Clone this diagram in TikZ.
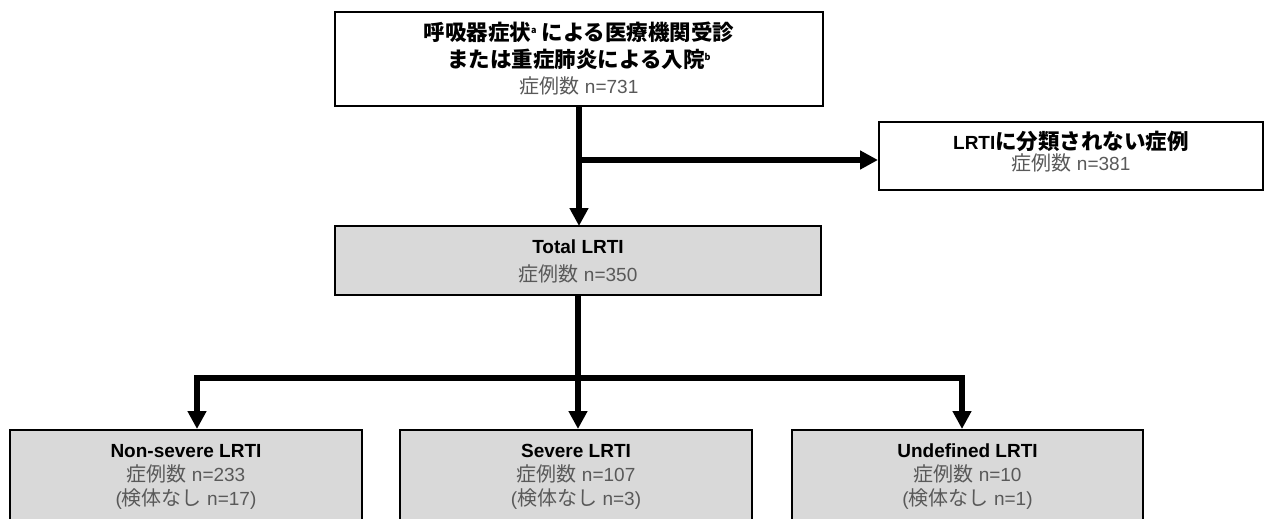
\documentclass[tikz,border=0pt]{standalone}
\usepackage{fontspec}
\setmainfont{Liberation Sans}
\newfontfamily\jp{Noto Sans CJK JP}
\usetikzlibrary{arrows.meta}
\definecolor{boxgray}{HTML}{D9D9D9}
\definecolor{txtgray}{HTML}{595959}
\newcommand\bigb{\fontsize{19}{26}\selectfont\bfseries}
\newcommand\bigj{\fontsize{21.5}{26}\selectfont\bfseries\jp}
\newcommand\smg{\fontsize{19}{24}\selectfont\mdseries\color{txtgray}}
\newcommand\smj{\fontsize{20}{24}\selectfont\jp}
\newcommand\supa[1]{\raisebox{7pt}{\fontsize{9}{9}\selectfont\bfseries #1}}
\begin{document}
\begin{tikzpicture}[x=1pt,y=-1pt,
  boxw/.style={draw=black, line width=2pt, fill=white, inner sep=0pt, align=center},
  boxg/.style={draw=black, line width=2pt, fill=boxgray, inner sep=0pt, align=center},
  boxb/.style={draw=black, line width=1.6pt, fill=boxgray, inner sep=0pt},
  lbl/.style={align=center, inner sep=0pt},
  conn/.style={line width=5.5pt},
  arr/.style={line width=5.5pt, -{Triangle[length=18pt,width=18pt]}}]
\useasboundingbox (0,0) rectangle (1266,519);
\clip (0,0) rectangle (1266,519);

\node[boxw, minimum width=488pt, minimum height=94pt] (top) at (579,59) {};
\node[lbl, font=\fontsize{17}{26.5}\selectfont] (topt) at (579,59)
  {{\bigj 呼吸器症状\supa{a} による医療機関受診}\\
   {\bigj または重症肺炎による入院\supa{b}}\\
   {\smg{\smj 症例数} n=731}};

\node[boxw, minimum width=384pt, minimum height=68pt] (excl) at (1071,156) {};
\node[lbl, font=\fontsize{17}{21}\selectfont] (exclt) at (1071,152)
  {{\bigb LRTI{\bigj に分類されない症例}}\\
   {\smg{\smj 症例数} n=381}};

\node[boxg, minimum width=486pt, minimum height=69pt] (total) at (578,260.5) {};
\node[lbl, font=\fontsize{17}{28}\selectfont] (totalt) at (578,261)
  {{\bigb Total LRTI}\\
   {\smg{\smj 症例数} n=350}};

\node[boxb, minimum width=352pt, minimum height=120pt, anchor=north] (b1) at (186,429) {};
\node[boxb, minimum width=352pt, minimum height=120pt, anchor=north] (b2) at (576,429) {};
\node[boxb, minimum width=351pt, minimum height=120pt, anchor=north] (b3) at (967.5,429) {};

\tikzset{blbl/.style={lbl, font=\fontsize{17}{24}\selectfont}}
\node[blbl] (t1) at (186,477)
  {{\bigb Non-severe LRTI}\\{\smg{\smj 症例数} n=233}\\{\smg({\smj 検体なし} n=17)}};
\node[blbl] (t2) at (576,477)
  {{\bigb Severe LRTI}\\{\smg{\smj 症例数} n=107}\\{\smg({\smj 検体なし} n=3)}};
\node[blbl] (t3) at (967.5,477)
  {{\bigb Undefined LRTI}\\{\smg{\smj 症例数} n=10}\\{\smg({\smj 検体なし} n=1)}};

\coordinate (br) at (579,160);
\coordinate (h1) at (197,378);
\coordinate (h3) at (962,378);

\draw[arr] (579,106) -- (579,226);
\draw[arr] (br) -- (excl.west |- br);
\draw[arr] (total.south) -- (total.south |- b2.north);
\draw[arr] (h3) -- (h1) -- (h1 |- b1.north);
\draw[arr] (h1) -- (h3) -- (h3 |- b3.north);
\end{tikzpicture}
\end{document}
